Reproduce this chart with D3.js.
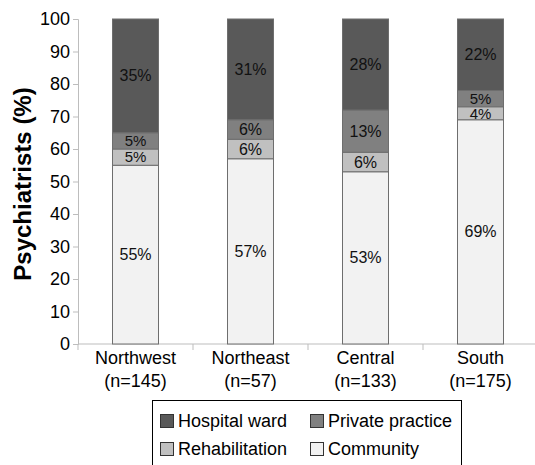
<!DOCTYPE html>
<html><head><meta charset="utf-8">
<script src="https://cdn.jsdelivr.net/npm/d3@7"></script>
<style>body{margin:0;background:#fff}svg{display:block;font-family:"Liberation Sans",Arial,sans-serif}</style>
</head><body><svg id="c" width="535" height="465"></svg>
<script>
const regions = ["Northwest", "Northeast", "Central", "South"];
const ns = ["(n=145)", "(n=57)", "(n=133)", "(n=175)"];
const community = [55, 57, 53, 69];
const rehabilitation = [5, 6, 6, 4];
const privatePractice = [5, 6, 13, 5];
const hospitalWard = [35, 31, 28, 22];
const yTicks = [0,10,20,30,40,50,60,70,80,90,100];
const seriesNames = ["Community","Rehabilitation","Private practice","Hospital ward"];
const seriesVals = [community, rehabilitation, privatePractice, hospitalWard];
const colors = ["#f2f2f2","#c0c0c0","#808080","#595959"];

const svg = d3.select("#c");
const FF = "Liberation Sans, Arial, sans-serif";
const x = d3.scaleBand().domain(regions).range([78, 538]).paddingInner(0).paddingOuter(0);
const y = d3.scaleLinear().domain([0,100]).range([344, 19]);
const bw = x.bandwidth()*0.4;

// axes
const ya = svg.append("g").attr("transform","translate(78,0)")
  .call(d3.axisLeft(y).tickValues(yTicks).tickSize(5).tickPadding(3));
ya.selectAll("path,line").attr("stroke","#bdbdbd");
ya.selectAll("text").attr("font-size",18).attr("fill","#000").attr("font-family",FF);

const xa = svg.append("g").attr("transform","translate(0,344)")
  .call(d3.axisBottom(x).tickSize(0).tickFormat(""));
xa.select("path").attr("stroke","#bdbdbd").attr("d","M78,0H538");
xa.selectAll("g.tick").remove();
svg.append("g").selectAll("line").data(regions).join("line")
  .attr("x1",d=>x(d)).attr("x2",d=>x(d)).attr("y1",344).attr("y2",350).attr("stroke","#bdbdbd");

// stacked bars
const rows = regions.map((r,i)=>{const o={region:r}; seriesNames.forEach((s,k)=>o[s]=seriesVals[k][i]); return o;});
const stack = d3.stack().keys(seriesNames)(rows);
stack.forEach((layer,k)=>{
  const g = svg.append("g");
  g.selectAll("rect").data(layer).join("rect")
    .attr("x",d=>x(d.data.region)+x.bandwidth()/2-bw/2)
    .attr("width",bw)
    .attr("y",d=>y(d[1]))
    .attr("height",d=>y(d[0])-y(d[1]))
    .attr("fill",colors[k]).attr("stroke","#6e6e6e").attr("stroke-width",1);
  g.selectAll("text").data(layer).join("text")
    .attr("x",d=>x(d.data.region)+x.bandwidth()/2)
    .attr("y",d=>(y(d[0])+y(d[1]))/2)
    .attr("dy","0.35em").attr("text-anchor","middle")
    .attr("font-size",d=>(d[1]-d[0])<6?15:16).attr("fill","#111").attr("font-family",FF)
    .text(d=>(d[1]-d[0])+"%");
});

// x labels
const xl = svg.append("g").attr("font-family",FF);
xl.selectAll("text.r").data(regions).join("text").attr("class","r")
  .attr("x",d=>x(d)+x.bandwidth()/2).attr("y",364).attr("text-anchor","middle")
  .attr("font-size",18).text(d=>d);
xl.selectAll("text.n").data(regions).join("text").attr("class","n")
  .attr("x",d=>x(d)+x.bandwidth()/2).attr("y",387).attr("text-anchor","middle")
  .attr("font-size",18).text((d,i)=>ns[i]);

// y title
svg.append("text").attr("transform","translate(31,184) rotate(-90)")
  .attr("text-anchor","middle").attr("font-size",24).attr("font-weight","bold")
  .attr("font-family",FF).text("Psychiatrists (%)");

// legend
const lg = svg.append("g").attr("font-family",FF);
lg.append("rect").attr("x",152.5).attr("y",400.5).attr("width",309).attr("height",80)
  .attr("fill","#fff").attr("stroke","#000").attr("stroke-width",1);
const legItems = [
  {name:"Hospital ward", c:colors[3], x:160, y:414},
  {name:"Private practice", c:colors[2], x:310, y:414},
  {name:"Rehabilitation", c:colors[1], x:160, y:442},
  {name:"Community", c:colors[0], x:310, y:442}
];
legItems.forEach(it=>{
  lg.append("rect").attr("x",it.x+0.5).attr("y",it.y+0.5).attr("width",13).attr("height",13)
    .attr("fill",it.c).attr("stroke","#333");
  lg.append("text").attr("x",it.x+18).attr("y",it.y+7).attr("dy","0.35em")
    .attr("font-size",18).text(it.name);
});
</script></body></html>
